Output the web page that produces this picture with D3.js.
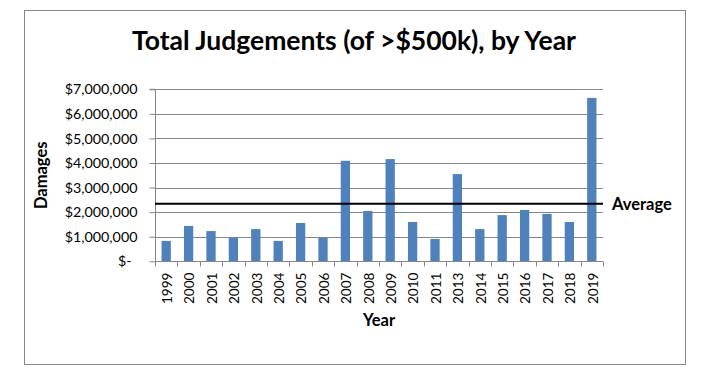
<!DOCTYPE html>
<html>
<head>
<meta charset="utf-8">
<script src="https://cdn.jsdelivr.net/npm/d3@7"></script>
<style>
  body { margin: 0; background: #fff; }
  svg { display: block; font-family: Lato, "Open Sans", sans-serif; }
</style>
</head>
<body>
<svg id="chart" width="711" height="385"></svg>
<script>
// datos
const years = ["1999", "2000", "2001", "2002", "2003", "2004", "2005", "2006", "2007", "2008",
               "2009", "2010", "2011", "2013", "2014", "2015", "2016", "2017", "2018", "2019"];
const damages = [830000, 1440000, 1230000, 960000, 1310000, 830000, 1560000, 960000, 4090000, 2050000,
                 4160000, 1600000, 910000, 3550000, 1310000, 1880000, 2090000, 1930000, 1600000, 6650000];
const average = 2340000;
const yTicks = [0, 1000000, 2000000, 3000000, 4000000, 5000000, 6000000, 7000000];

const svg = d3.select("#chart");
const plot = { left: 155, right: 603, top: 89.3, bottom: 261.3 };

// marco exterior
svg.append("rect")
   .attr("x", 24.5).attr("y", 10.5)
   .attr("width", 661).attr("height", 354)
   .attr("fill", "#fff")
   .attr("stroke", "#888").attr("stroke-width", 1);

const x = d3.scaleBand()
            .domain(years)
            .range([plot.left, plot.right])
            .paddingInner(0.585)
            .paddingOuter(0.2925);

const y = d3.scaleLinear()
            .domain([0, 7000000])
            .range([plot.bottom, plot.top]);

// líneas de cuadrícula
svg.append("g")
   .selectAll("line")
   .data(yTicks.slice(1))
   .enter()
   .append("line")
   .attr("x1", plot.left).attr("x2", plot.right)
   .attr("y1", d => Math.round(y(d)) + 0.5).attr("y2", d => Math.round(y(d)) + 0.5)
   .attr("stroke", "#868686");

// barras
svg.append("g")
   .selectAll("rect")
   .data(damages)
   .enter()
   .append("rect")
   .attr("x", (d, i) => x(years[i]))
   .attr("y", d => y(d))
   .attr("width", x.bandwidth())
   .attr("height", d => y(0) - y(d))
   .attr("fill", "#4f81bd");

// eje Y
const yAxis = svg.append("g")
   .attr("transform", `translate(${plot.left + 0.5},0)`)
   .call(d3.axisLeft(y)
           .tickValues(yTicks)
           .tickSize(6)
           .tickPadding(12)
           .tickFormat(d => d === 0 ? "$-" : "$" + d3.format(",")(d)));

yAxis.select(".domain").attr("stroke", "#868686").attr("d", `M-6,${plot.top}H0V${plot.bottom}`);
yAxis.selectAll(".tick line").attr("stroke", "#868686");
yAxis.selectAll(".tick text")
     .attr("font-size", "14.3px")
     .attr("fill", "#000")
     .attr("dx", d => d === 0 ? "-6px" : null);
yAxis.attr("font-family", null);

// eje X
const xAxis = svg.append("g")
   .attr("transform", `translate(0,${Math.round(plot.bottom) + 0.5})`)
   .call(d3.axisBottom(x).tickSize(0).tickPadding(0));
xAxis.attr("font-family", null);
xAxis.select(".domain").attr("stroke", "#868686").attr("d", `M${plot.left},0H${plot.right}`);
xAxis.selectAll(".tick text")
     .attr("transform", "rotate(-90)")
     .attr("text-anchor", "end")
     .attr("x", -11)
     .attr("y", 1)
     .attr("dy", "0.35em")
     .attr("font-size", "13.6px")
     .attr("fill", "#000");

// marcas entre categorías
const edges = years.map(yr => x(yr) - x.step() * x.paddingInner() / 2);
edges.push(plot.right);
xAxis.selectAll(".edge")
     .data(edges)
     .enter()
     .append("line")
     .attr("x1", d => Math.round(d) + 0.5).attr("x2", d => Math.round(d) + 0.5)
     .attr("y1", 0).attr("y2", 5)
     .attr("stroke", "#868686");

// línea del promedio
svg.append("line")
   .attr("x1", plot.left).attr("x2", plot.right)
   .attr("y1", y(average)).attr("y2", y(average))
   .attr("stroke", "#000").attr("stroke-width", 2);

svg.append("text")
   .attr("x", 612).attr("y", y(average))
   .attr("dy", "0.35em")
   .attr("font-size", "16.5px").attr("font-weight", "bold")
   .text("Average");

// títulos
svg.append("text")
   .attr("x", 354).attr("y", 50)
   .attr("text-anchor", "middle")
   .attr("font-size", "26.5px").attr("font-weight", "bold")
   .text("Total Judgements (of >$500k), by Year");

svg.append("text")
   .attr("x", (plot.left + plot.right) / 2).attr("y", 326)
   .attr("text-anchor", "middle")
   .attr("font-size", "16.5px").attr("font-weight", "bold")
   .text("Year");

svg.append("text")
   .attr("transform", `translate(47,${(plot.top + plot.bottom) / 2}) rotate(-90)`)
   .attr("text-anchor", "middle")
   .attr("font-size", "16.5px").attr("font-weight", "bold")
   .text("Damages");
</script>
</body>
</html>
